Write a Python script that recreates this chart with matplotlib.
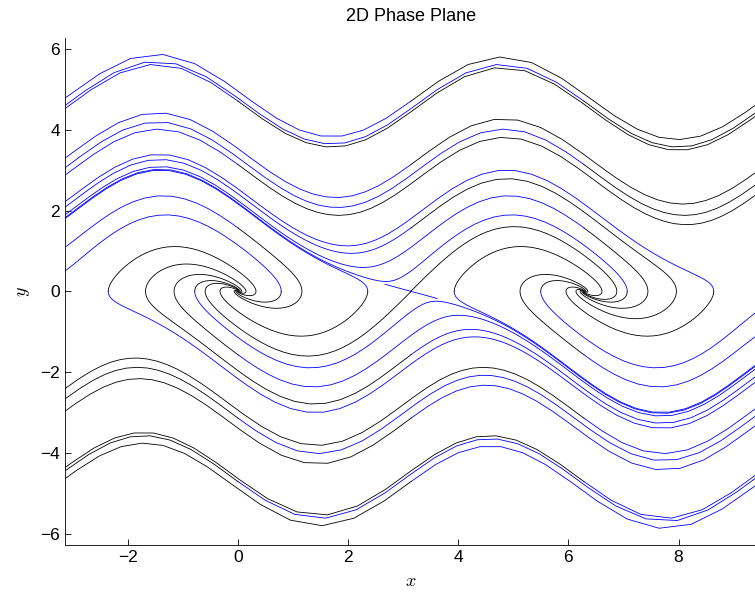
import numpy as np
import matplotlib.pyplot as plt

plt.rcParams["mathtext.fontset"] = "cm"

# -----------------------------------
# System and start points
# -----------------------------------

damping = 1.0      # coefficient of y*cos(x)
stiffness = 0.5    # coefficient of sin(x)

# start points on the line y = 0
row_x = np.pi / 4 * np.array([-3, -1, 1, 3, 5, 7, 9, 11])
# start points on the lines x = 0, pi, 2*pi
col_x = [0.0, np.pi, 2 * np.pi]
col_y = np.pi / 2 * np.array([-3, -2, -1, 1, 2, 3])
# start points next to the saddle
saddle_y = [-0.01, 0.01]

t_end = 12.0
step = 0.01
keep_every = 10

x_ticks = [-2, 0, 2, 4, 6, 8]
y_ticks = [-6, -4, -2, 0, 2, 4, 6]


def rhs(s):
    x, y = s
    return np.array([y, -stiffness * np.sin(x) - damping * y * np.cos(x)])


def trace(x0, y0, direction):
    s = np.array([x0, y0], dtype=float)
    h = direction * step
    pts = [s.copy()]
    n = int(t_end / step)
    for i in range(n):
        k1 = rhs(s)
        k2 = rhs(s + 0.5 * h * k1)
        k3 = rhs(s + 0.5 * h * k2)
        k4 = rhs(s + h * k3)
        s = s + h / 6 * (k1 + 2 * k2 + 2 * k3 + k4)
        if (i + 1) % keep_every == 0:
            pts.append(s.copy())
        if abs(s[1]) > 12 or s[0] < -8 or s[0] > 16:
            pts.append(s.copy())
            break
    return np.array(pts)


starts = [(x0, 0.0) for x0 in row_x]
starts += [(cx, y0) for cx in col_x for y0 in col_y]
starts += [(np.pi, y0) for y0 in saddle_y]

# -----------------------------------
# Figure
# -----------------------------------

fig = plt.figure(figsize=(7.55, 5.92), dpi=100)
ax = fig.add_axes([0.0861, 0.0794, 0.9165, 0.8569])

for x0, y0 in starts:
    fwd = trace(x0, y0, 1)
    bwd = trace(x0, y0, -1)
    ax.plot(bwd[:, 0], bwd[:, 1], color="blue", lw=0.6)
    ax.plot(fwd[:, 0], fwd[:, 1], color="black", lw=0.6)

ax.set_xlim(-np.pi, 3 * np.pi)
ax.set_ylim(-2 * np.pi, 2 * np.pi)
ax.set_xticks(x_ticks)
ax.set_yticks(y_ticks)
ax.set_xticklabels(["\u22122", "0", "2", "4", "6", "8"])
ax.set_yticklabels(["\u22126", "\u22124", "\u22122", "0", "2", "4", "6"])
ax.tick_params(direction="in", length=4, labelsize=12.5, width=0.6)
for lab in ax.get_xticklabels() + ax.get_yticklabels():
    lab.set_family("Liberation Sans")

ax.spines["top"].set_visible(False)
ax.spines["right"].set_visible(False)
ax.spines["left"].set_linewidth(0.6)
ax.spines["bottom"].set_linewidth(0.6)

ax.set_xlabel(r"$x$", fontsize=13, labelpad=5)
ax.set_ylabel(r"$y$", fontsize=13, labelpad=6)
ax.set_title("2D Phase Plane", fontsize=13, family="Liberation Sans", pad=12)

fig.savefig("out.png", dpi=100)
